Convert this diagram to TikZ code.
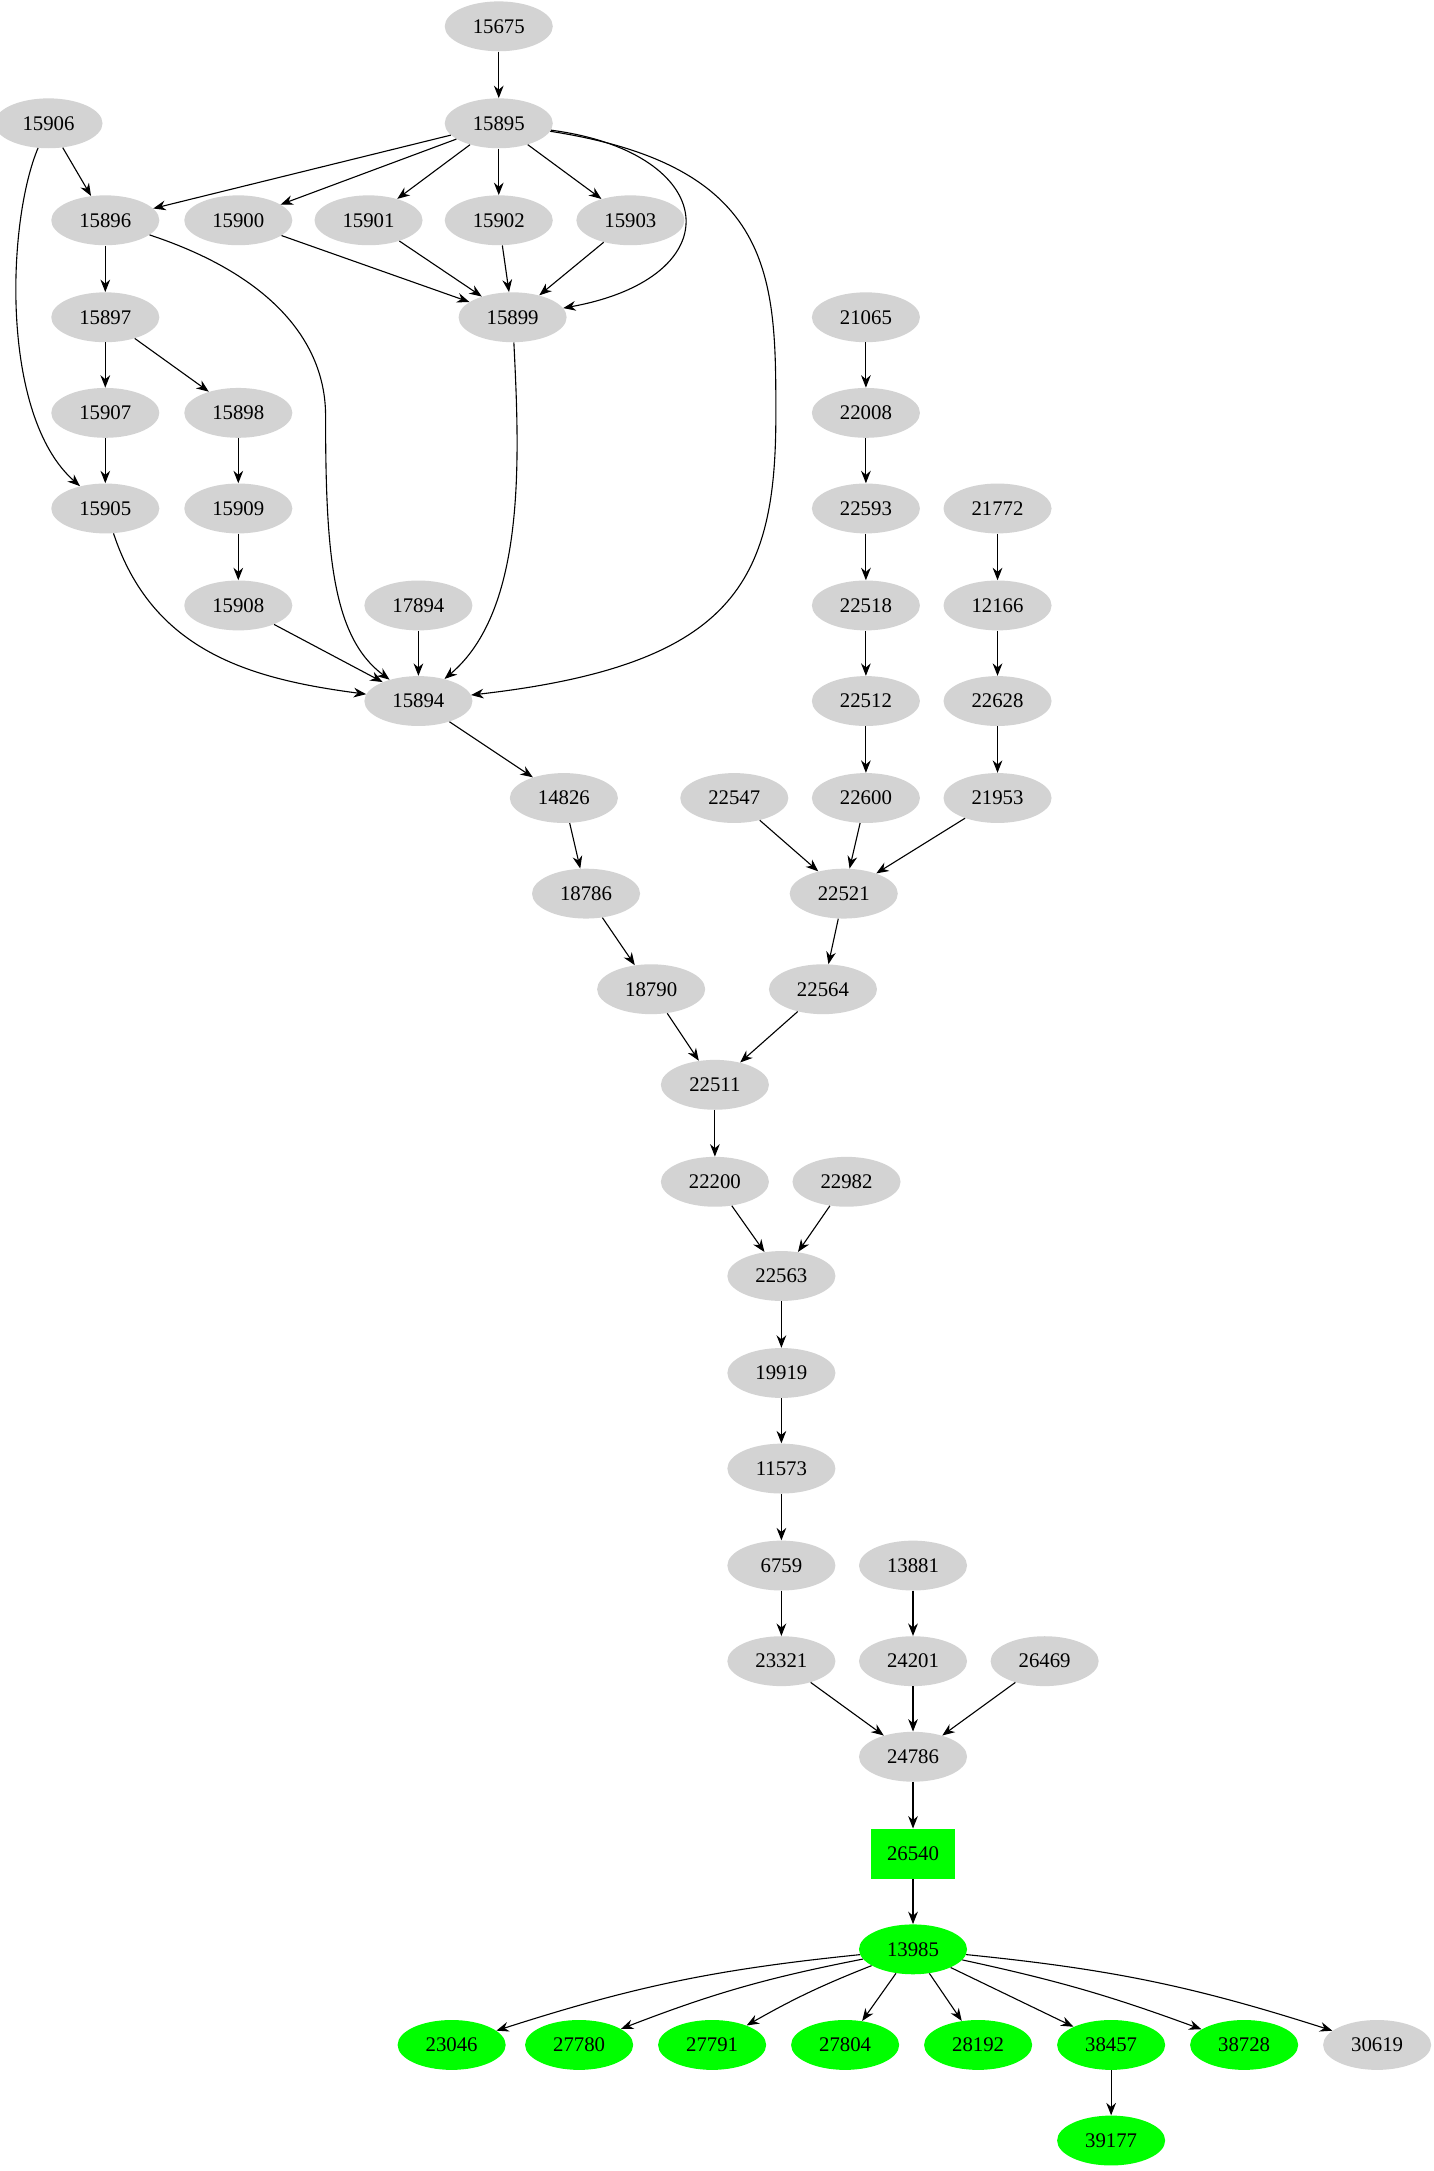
\documentclass[tikz,border=0pt]{standalone}
\usepackage{fontspec}
\setmainfont{Liberation Serif}
\usetikzlibrary{shapes.geometric, arrows.meta}
\definecolor{lgray}{HTML}{D3D3D3}
\definecolor{lgreen}{HTML}{00FF00}
\tikzset{
  nd/.style={ellipse, fill=lgray, minimum width=78pt, minimum height=36pt, inner sep=0pt, font=\fontsize{15}{17}\selectfont},
  gn/.style={nd, fill=lgreen},
  gbox/.style={rectangle, fill=lgreen, minimum width=60pt, minimum height=36pt, font=\fontsize{15}{17}\selectfont},
  edg/.style={-{Stealth[length=9pt,width=7pt]}, thick}
}
\begin{document}
\begin{tikzpicture}[x=1pt, y=-1pt]
  \useasboundingbox (0,0) rectangle (1035,1567);
  % gray nodes
  \foreach \n/\x/\y in {15675/360/19, 15906/35/89, 15895/360/89,
      15896/76/159, 15900/172/159, 15901/266/159, 15902/360/159, 15903/455/159,
      15897/76/229, 15899/370/229, 21065/625/229,
      15907/76/298, 15898/172/298, 22008/625/298,
      15905/76/367, 15909/172/367, 22593/625/367, 21772/720/367,
      15908/172/437, 17894/302/437, 22518/625/437, 12166/720/437,
      15894/302/506, 22512/625/506, 22628/720/506,
      14826/407/576, 22547/530/576, 22600/625/576, 21953/720/576,
      18786/423/645, 22521/609/645, 18790/470/714, 22564/594/714,
      22511/516/783, 22200/516/853, 22982/611/853, 22563/564/921,
      19919/564/991, 11573/564/1060, 6759/564/1130, 13881/659/1130,
      23321/564/1199, 24201/659/1199, 26469/754/1199, 24786/659/1268,
      30619/994/1476}
    \node[nd] (n\n) at (\x,\y) {\n};
  % green nodes
  \node[gbox] (n26540) at (659,1338) {26540};
  \foreach \n/\x/\y in {13985/659/1407, 23046/326/1476, 27780/418/1476,
      27791/514/1476, 27804/610/1476, 28192/706/1476, 38457/802/1476,
      38728/898/1476, 39177/802/1545}
    \node[gn] (n\n) at (\x,\y) {\n};

  % straight edges
  \foreach \a/\b in {15675/15895, 15906/15896, 15895/15896, 15895/15900,
      15895/15901, 15895/15902, 15895/15903, 15900/15899, 15901/15899,
      15902/15899, 15903/15899, 15896/15897, 15897/15907, 15897/15898,
      15907/15905, 15898/15909, 15909/15908, 15908/15894, 17894/15894,
      21065/22008, 22008/22593, 22593/22518, 22518/22512, 22512/22600,
      21772/12166, 12166/22628, 22628/21953, 22547/22521, 22600/22521,
      21953/22521, 15894/14826, 14826/18786, 18786/18790, 22521/22564,
      18790/22511, 22564/22511, 22511/22200, 22200/22563, 22982/22563,
      22563/19919, 19919/11573, 11573/6759, 6759/23321, 13881/24201,
      23321/24786, 24201/24786, 26469/24786, 24786/26540, 26540/13985,
      13985/27804, 13985/28192, 13985/38457, 38457/39177}
    \draw[edg] (n\a) -- (n\b);

  % curved edges
  \draw[edg] (n15906) .. controls (5,160) and (0,300) .. (n15905);
  \draw[edg] (n15896) .. controls (200,200) and (235,250) .. (235,300) .. controls (235,400) and (240,460) .. (n15894);
  \draw[edg] (n15895) .. controls (520,110) and (530,200) .. (n15899);
  \draw[edg] (n15895) .. controls (560,120) and (560,200) .. (560,300) .. controls (560,420) and (530,480) .. (n15894);
  \draw[edg] (n15899) .. controls (375,330) and (380,440) .. (n15894);
  \draw[edg] (n15905) .. controls (110,470) and (180,490) .. (n15894);
  \draw[edg] (n13985) to[bend right=6] (n23046);
  \draw[edg] (n13985) to[bend right=5] (n27780);
  \draw[edg] (n13985) to[bend right=4] (n27791);
  \draw[edg] (n13985) to[bend left=4] (n38728);
  \draw[edg] (n13985) to[bend left=6] (n30619);
\end{tikzpicture}
\end{document}
